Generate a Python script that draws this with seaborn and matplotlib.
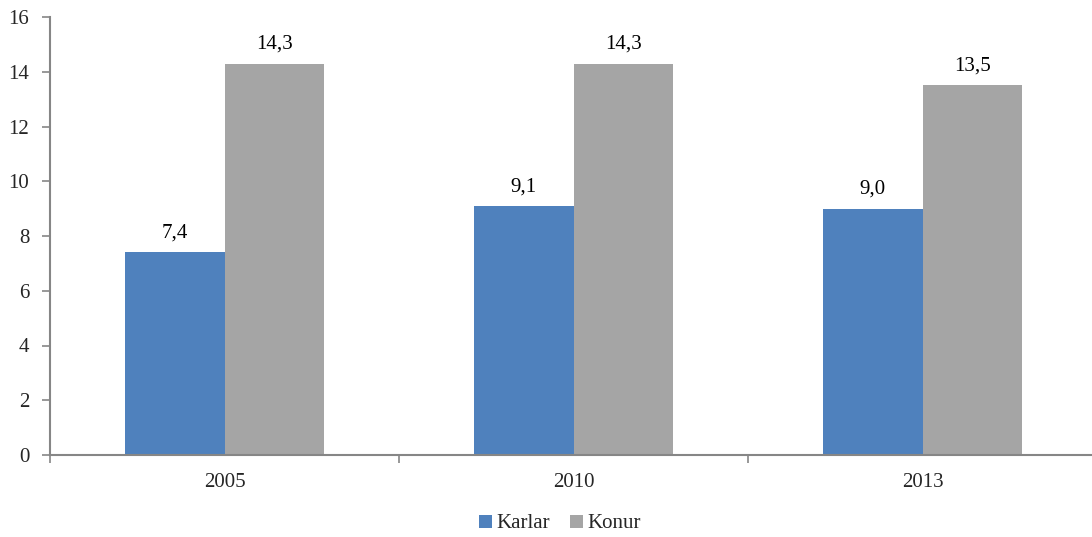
import matplotlib
matplotlib.use('Agg')
import matplotlib.pyplot as plt
import seaborn as sns
import pandas as pd

# Data
years = ["2005", "2010", "2013"]
karlar = [7.4, 9.1, 9.0]
konur = [14.3, 14.3, 13.5]
series_names = ["Karlar", "Konur"]
colors = ["#4F81BD", "#A5A5A5"]
y_ticks = [0, 2, 4, 6, 8, 10, 12, 14, 16]

df = pd.DataFrame({
    "year": years * 2,
    "value": karlar + konur,
    "series": [series_names[0]] * len(years) + [series_names[1]] * len(years),
})

sns.set_theme(style="white")
plt.rcParams['font.family'] = ['Liberation Serif', 'DejaVu Serif']

W, H = 1092, 537
FS = 15
fig = plt.figure(figsize=(W / 100, H / 100), dpi=100)
# plot area: x from 50 px to 1097 px (clipped by figure edge), y from 17 to 455 px
ax = fig.add_axes([50 / W, (H - 455) / H, 1047 / W, (455 - 17) / H])

sns.barplot(data=df, x="year", y="value", hue="series", palette=colors,
            width=0.573, gap=0, saturation=1, ax=ax, edgecolor="none",
            linewidth=0)

# value labels with comma decimal
for cont in ax.containers:
    labels = [f"{b.get_height():.1f}".replace(".", ",") for b in cont]
    ax.bar_label(cont, labels=labels, padding=7, fontsize=FS, color="#000000")

ax.set_xlim(-0.5, 2.5)
ax.set_ylim(0, 16)
ax.set_yticks(y_ticks)
ax.set_yticklabels([str(t) for t in y_ticks], fontsize=FS)
ax.set_xlabel("")
ax.set_ylabel("")

# category labels centred, tick marks between categories
ax.set_xticks(range(len(years)))
ax.set_xticklabels(years, fontsize=FS)
ax.tick_params(axis="x", which="major", length=0, pad=13, bottom=True)
ax.set_xticks([-0.5, 0.5, 1.5, 2.5], minor=True)
ax.tick_params(axis="x", which="minor", length=6, width=1.2, color="#868686",
               direction="out", bottom=True)
ax.tick_params(axis="y", length=6, width=1.2, color="#868686", direction="out",
               pad=9, left=True)

for side in ["top", "right"]:
    ax.spines[side].set_visible(False)
for side in ["left", "bottom"]:
    ax.spines[side].set_color("#868686")
    ax.spines[side].set_linewidth(1.5)

leg = ax.legend(loc="center", bbox_to_anchor=(560 / W, (H - 524) / H),
                bbox_transform=fig.transFigure, ncol=2, frameon=False,
                fontsize=FS, handlelength=0.6, handleheight=0.6,
                handletextpad=0.2, columnspacing=1.0, borderpad=0)

fig.savefig("out.png", dpi=100)
